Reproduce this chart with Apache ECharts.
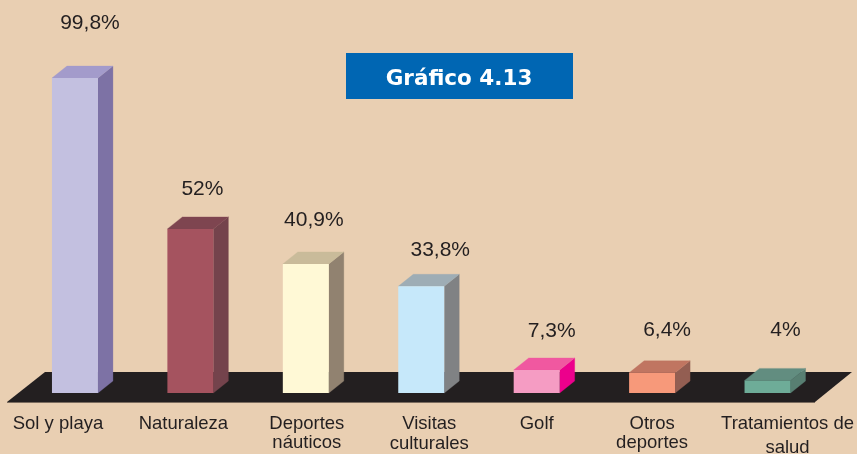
<!DOCTYPE html>
<html>
<head>
<meta charset="utf-8">
<style>html,body{margin:0;padding:0;background:#e9cfb2}#c{width:857px;height:454px}</style>
<script src="https://cdn.jsdelivr.net/npm/echarts@6/dist/echarts.min.js"></script>
</head>
<body>
<div id="c"></div>
<script>
const categories = ['Sol y playa','Naturaleza','Deportes\nnáuticos','Visitas\nculturales','Golf','Otros\ndeportes','Tratamientos de\nsalud'];
const values = [99.8,52,40.9,33.8,7.3,6.4,4];
const valueLabels = ['99,8%','52%','40,9%','33,8%','7,3%','6,4%','4%'];
const frontColors = ['#c3c0e0','#a5535f','#fff9d6','#c6e8fa','#f59cc3','#f7997a','#6eac98'];
const topColors   = ['#a39bcb','#7e4550','#c9bb9a','#9eadb5','#f058a0','#c07561','#628d80'];
const sideColors  = ['#7d72a5','#74434c','#918270','#808284','#ec008c','#935e52','#587f72'];
// label placement relative to each bar
const valueLabelShift = [[15,-55],[12,-40],[8,-44],[19,-36],[15,-39],[15,-43],[18,-50]];
const catLabelShift = [-17,-7,1,8,0,0,20];
const catLineHeights = [19,19,19,20,19,19,24];

const DX = 15, DY = 12, BAR = 46;
const chart = echarts.init(document.getElementById('c'), null, {renderer:'canvas'});
const font = '"Liberation Sans", Arial, sans-serif';

function renderBar(params, api){
  const i = params.dataIndex;
  const base = api.coord([i, 0]);
  const top = api.coord([i, api.value(1)]);
  const x0 = base[0] - BAR/2, x1 = base[0] + BAR/2, yb = base[1], yt = top[1];
  const poly = (pts, fill) => ({type:'polygon', shape:{points:pts}, style:{fill, stroke:fill, lineWidth:0.3}});
  return {type:'group', children:[
    poly([[x1,yt],[x1+DX,yt-DY],[x1+DX,yb-DY],[x1,yb]], sideColors[i]),
    poly([[x0,yt],[x0+DX,yt-DY],[x1+DX,yt-DY],[x1,yt]], topColors[i]),
    {type:'rect', shape:{x:x0,y:yt,width:BAR,height:yb-yt}, style:{fill:frontColors[i]}},
    {type:'text', x:base[0]+valueLabelShift[i][0], y:yt+valueLabelShift[i][1],
      style:{text:valueLabels[i], fill:'#231f20', font:'21px '+font, align:'center', verticalAlign:'middle'}},
    {type:'text', x:base[0]+catLabelShift[i], y:yb+31-catLineHeights[i]/2,
      style:{text:categories[i], fill:'#231f20', font:'18.5px '+font, align:'center', verticalAlign:'top', lineHeight:catLineHeights[i]}}
  ]};
}

chart.setOption({
  animation:false,
  backgroundColor:'#e9cfb2',
  title:{text:'Gráfico 4.13', left:454, top:63, textAlign:'center',
    textStyle:{color:'#fff', fontFamily:'"DejaVu Sans"', fontWeight:'bold', fontSize:21.5}},
  grid:{left:17.25, width:808, top:77.4, bottom:61},
  xAxis:{type:'category', data:categories, show:false},
  yAxis:{type:'value', min:0, max:100, show:false},
  graphic:[
    {type:'polygon', z:0, shape:{points:[[7,402],[45,372],[852,372],[815,402]]},
      style:{fill:'#231f20'}},
    {type:'line', z:0, shape:{x1:7,y1:402.5,x2:815,y2:402.5}, style:{stroke:'#7a6b5e', lineWidth:1}},
    {type:'rect', z:1, shape:{x:346,y:53,width:227,height:46}, style:{fill:'#0066b3'}}
  ],
  series:[{type:'custom', coordinateSystem:'cartesian2d', renderItem:renderBar, clip:false,
    data:values.map((v,i)=>[i,v])}]
});
</script>
</body>
</html>
